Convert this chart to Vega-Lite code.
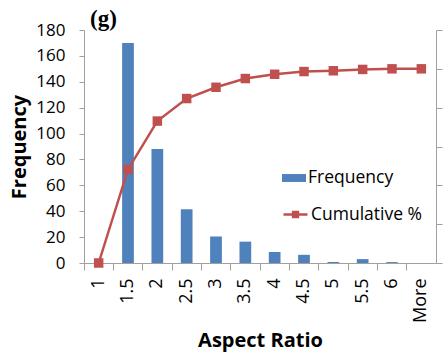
{
  "$schema": "https://vega.github.io/schema/vega-lite/v6.json",
  "width": 352,
  "height": 233,
  "autosize": {"type": "none"},
  "padding": {"left": 84, "top": 30, "right": 10, "bottom": 91},
  "title": {"text": "(g)", "anchor": "start", "frame": "group", "font": "Liberation Serif", "fontSize": 23, "fontWeight": "bold", "color": "black", "dx": 6, "dy": 28, "offset": 0, "baseline": "alphabetic"},
  "config": {
    "view": {"stroke": null},
    "font": "Open Sans",
    "axis": {"grid": false, "domainColor": "#A0A0A0", "tickColor": "#A0A0A0", "labelColor": "black", "titleColor": "black", "labelFont": "Open Sans", "titleFont": "Open Sans"},
    "legend": {"labelFont": "Open Sans"}
  },
  "data": {"values": [
    {"ratio": "1", "freq": 0, "cum": 0},
    {"ratio": "1.5", "freq": 170, "cum": 48.2},
    {"ratio": "2", "freq": 88, "cum": 73.1},
    {"ratio": "2.5", "freq": 41.5, "cum": 84.7},
    {"ratio": "3", "freq": 20.5, "cum": 90.5},
    {"ratio": "3.5", "freq": 16.5, "cum": 95},
    {"ratio": "4", "freq": 8.5, "cum": 97.2},
    {"ratio": "4.5", "freq": 6.3, "cum": 98.6},
    {"ratio": "5", "freq": 0.8, "cum": 99},
    {"ratio": "5.5", "freq": 3, "cum": 99.7},
    {"ratio": "6", "freq": 0.7, "cum": 100},
    {"ratio": "More", "freq": 0, "cum": 100}
  ]},
  "layer": [
    {
      "mark": {"type": "bar", "color": "#4F81BD"},
      "encoding": {
        "x": {"field": "ratio", "type": "ordinal", "sort": null,
          "scale": {"paddingInner": 0.6, "paddingOuter": 0.3},
          "axis": {"orient": "bottom", "title": "Aspect Ratio", "titleFontSize": 20, "titleFontWeight": "bold", "labelAngle": -90, "labelFontSize": 18, "ticks": false, "labelPadding": 15, "titlePadding": 8}},
        "y": {"field": "freq", "type": "quantitative", "scale": {"domain": [0, 180]},
          "axis": {"orient": "left", "values": [0, 20, 40, 60, 80, 100, 120, 140, 160, 180], "title": "Frequency", "titleFontSize": 20, "titleFontWeight": "bold", "labelFontSize": 17, "tickSize": 5, "labelPadding": 14, "titlePadding": 6}},
        "color": {"datum": "Frequency", "scale": {"range": ["#4F81BD"]},
          "legend": {"orient": "none", "legendX": 198, "legendY": 136, "title": null, "symbolType": "M-1,-0.33H1V0.33H-1Z", "symbolSize": 576, "labelFontSize": 17.5, "labelColor": "black", "labelOffset": 2, "padding": 0, "symbolStrokeWidth": 0}}
      }
    },
    {
      "mark": {"type": "line", "color": "#C0504D", "strokeWidth": 2.5, "point": {"shape": "square", "size": 90, "filled": true}},
      "encoding": {
        "x": {"field": "ratio", "type": "ordinal", "sort": null,
          "axis": {"orient": "bottom", "labels": false, "title": null, "domain": false, "ticks": true, "tickSize": 7, "bandPosition": -0.75}},
        "y": {"field": "cum", "type": "quantitative", "scale": {"domain": [0, 120]},
          "axis": {"orient": "right", "values": [0, 20, 40, 60, 80, 100, 120], "labels": false, "title": null, "tickSize": 6}},
        "color": {"datum": "Cumulative %", "scale": {"range": ["#C0504D"]},
          "legend": {"orient": "none", "legendX": 198, "legendY": 171, "title": null, "symbolType": "M-1,0H1M-0.2,-0.2H0.2V0.2H-0.2Z", "symbolSize": 576, "labelFontSize": 17.5, "labelColor": "black", "labelOffset": 2, "padding": 0, "symbolStrokeWidth": 2.5, "symbolStrokeColor": "#C0504D", "symbolFillColor": "#C0504D"}}
      }
    }
  ],
  "resolve": {"scale": {"y": "independent", "color": "independent"}, "axis": {"x": "independent"}}
}
